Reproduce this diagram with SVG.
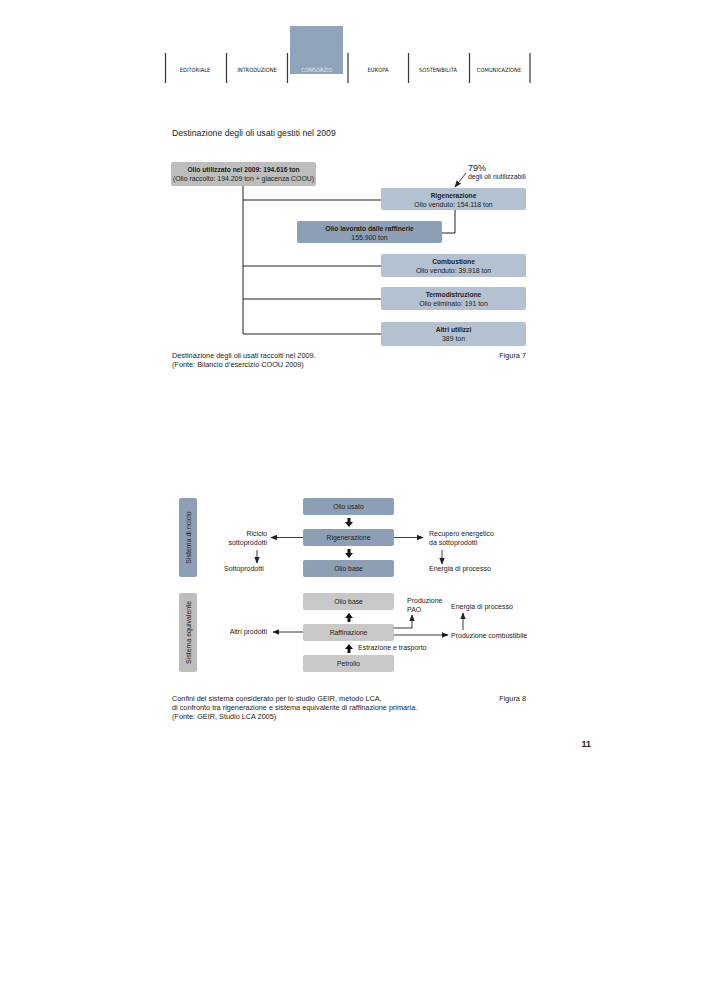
<svg xmlns="http://www.w3.org/2000/svg" width="706" height="1000" viewBox="0 0 706 1000">
<defs>
<style>
text{font-family:"Liberation Sans",Arial,sans-serif;fill:#222;}
.nav{font-size:5.7px;text-anchor:middle;fill:#222;font-family:"DejaVu Sans Condensed","Liberation Sans Narrow",sans-serif;}
.navbar{stroke:#333;stroke-width:1.2;}
.t7{font-size:6.9px;text-anchor:middle;}
.b{font-weight:bold;font-size:6.7px;}
.lbl{font-size:7px;}
.bx{font-size:6.8px;text-anchor:middle;}
.cap{font-size:7.3px;}
.ln{stroke:#222;stroke-width:1;fill:none;}
.thin{stroke:#222;stroke-width:0.9;fill:none;}
.blue{fill:#b4c1d0;}
.dblue{fill:#8c9fb5;}
.grey{fill:#bdbdbd;}
.lgrey{fill:#c8c8c8;}
</style>
<marker id="ah" viewBox="0 0 10 10" refX="9" refY="5" markerWidth="7" markerHeight="7" markerUnits="userSpaceOnUse" orient="auto">
<path d="M0,1 L10,5 L0,9 z" fill="#222"/>
</marker>
<path id="thick" d="M-1.5,0 L1.5,0 L1.5,4 L4,4 L0,9 L-4,4 L-1.5,4 z" fill="#111"/>
</defs>
<rect width="706" height="1000" fill="#fff"/>

<g id="header">
<rect x="290" y="26" width="53" height="48" fill="#8fa3ba"/>
<line class="navbar" x1="165.5" y1="53" x2="165.5" y2="83"/>
<line class="navbar" x1="226.5" y1="53" x2="226.5" y2="83"/>
<line class="navbar" x1="287.5" y1="53" x2="287.5" y2="83"/>
<line class="navbar" x1="348" y1="53" x2="348" y2="83"/>
<line class="navbar" x1="408.5" y1="53" x2="408.5" y2="83"/>
<line class="navbar" x1="469.5" y1="53" x2="469.5" y2="83"/>
<line class="navbar" x1="530" y1="53" x2="530" y2="83"/>
<text class="nav" x="195" y="72">EDITORIALE</text>
<text class="nav" x="257" y="72">INTRODUZIONE</text>
<text class="nav" x="317" y="72" style="fill:#dfe6ee">CONSORZIO</text>
<text class="nav" x="378" y="72">EUROPA</text>
<text class="nav" x="438" y="72">SOSTENIBILITÀ</text>
<text class="nav" x="499" y="72">COMUNICAZIONE</text>
</g>

<text x="172" y="136" style="font-size:8.7px">Destinazione degli oli usati gestiti nel 2009</text>

<g id="fig7-connectors">
<polyline class="ln" points="243,186 243,334 381,334"/>
<line class="ln" x1="243" y1="200" x2="381" y2="200"/>
<line class="ln" x1="243" y1="266" x2="381" y2="266"/>
<line class="ln" x1="243" y1="299" x2="381" y2="299"/>
<polyline class="ln" points="455,210 455,233 442,233"/>
<line class="thin" x1="466" y1="173" x2="455" y2="187" marker-end="url(#ah)"/>
</g>

<g id="n-utilizzato">
<rect x="171" y="162" width="145" height="24" rx="2" class="grey"/>
<text class="t7 b" x="243.5" y="172">Olio utilizzato nel 2009: 194.616 ton</text>
<text class="t7" x="243.5" y="181">(Olio raccolto: 194.209 ton + giacenza COOU)</text>
</g>
<g id="n-pct">
<text x="468" y="171" style="font-size:9px">79%</text>
<text x="468" y="179" style="font-size:6.8px">degli oli riutilizzabili</text>
</g>
<g id="n-rigenerazione">
<rect x="381" y="188" width="145" height="22" rx="2" class="blue"/>
<text class="t7 b" x="453.5" y="197.5">Rigenerazione</text>
<text class="t7" x="453.5" y="206.5">Olio venduto: 154.118 ton</text>
</g>
<g id="n-lavorato">
<rect x="297" y="221" width="145" height="22" rx="2" class="dblue"/>
<text class="t7 b" x="369.5" y="230.5">Olio lavorato dalle raffinerie</text>
<text class="t7" x="369.5" y="239.5">155.900 ton</text>
</g>
<g id="n-combustione">
<rect x="381" y="254" width="145" height="23" rx="2" class="blue"/>
<text class="t7 b" x="453.5" y="263.5">Combustione</text>
<text class="t7" x="453.5" y="272.5">Olio venduto: 39.918 ton</text>
</g>
<g id="n-termo">
<rect x="381" y="287" width="145" height="23" rx="2" class="blue"/>
<text class="t7 b" x="453.5" y="296.5">Termodistruzione</text>
<text class="t7" x="453.5" y="305.5">Olio eliminato: 191 ton</text>
</g>
<g id="n-altri">
<rect x="381" y="322" width="145" height="24" rx="2" class="blue"/>
<text class="t7 b" x="453.5" y="331.5">Altri utilizzi</text>
<text class="t7" x="453.5" y="340.5">389 ton</text>
</g>

<text class="cap" x="172" y="358">Destinazione degli oli usati raccolti nel 2009.</text>
<text class="cap" x="172" y="367">(Fonte: Bilancio d’esercizio COOU 2009)</text>
<text class="cap" x="526" y="358" text-anchor="end">Figura 7</text>

<!-- Figure 8 -->
<g id="side-riciclo">
<rect x="179" y="498" width="18" height="79" rx="2" class="dblue"/>
<text class="lbl" transform="translate(190.5,537.5) rotate(-90)" text-anchor="middle">Sistema di riciclo</text>
</g>
<g id="side-equivalente">
<rect x="179" y="593" width="18" height="79" rx="2" class="grey"/>
<text class="lbl" transform="translate(190.5,632.5) rotate(-90)" text-anchor="middle">Sistema equivalente</text>
</g>

<g id="fig8-connectors">
<use href="#thick" x="349" y="518"/>
<use href="#thick" x="349" y="549"/>
<use href="#thick" transform="translate(349,622) rotate(180)"/>
<use href="#thick" transform="translate(349,653) rotate(180)"/>
<line class="thin" x1="303" y1="537.5" x2="271" y2="537.5" marker-end="url(#ah)"/>
<line class="thin" x1="394" y1="537.5" x2="423" y2="537.5" marker-end="url(#ah)"/>
<line class="thin" x1="257" y1="550" x2="257" y2="563" marker-end="url(#ah)"/>
<line class="thin" x1="442" y1="550" x2="442" y2="564" marker-end="url(#ah)"/>
<line class="thin" x1="303" y1="632" x2="273" y2="632" marker-end="url(#ah)"/>
<polyline class="thin" points="394,628 412,628 412,615" marker-end="url(#ah)"/>
<line class="thin" x1="394" y1="635" x2="448" y2="635" marker-end="url(#ah)"/>
<line class="thin" x1="463" y1="630" x2="463" y2="613" marker-end="url(#ah)"/>
</g>

<g id="n-oliousato">
<rect x="303" y="498" width="91" height="17" rx="2" class="dblue"/>
<text class="bx" x="348.5" y="508.8">Olio usato</text>
</g>
<g id="n-rigen8">
<rect x="303" y="529" width="91" height="17" rx="2" class="dblue"/>
<text class="bx" x="348.5" y="539.8">Rigenerazione</text>
</g>
<g id="n-oliobase1">
<rect x="303" y="560" width="91" height="17" rx="2" class="dblue"/>
<text class="bx" x="348.5" y="570.8">Olio base</text>
</g>
<g id="n-riciclo">
<text class="lbl" x="267" y="536" text-anchor="end">Riciclo</text>
<text class="lbl" x="267" y="545" text-anchor="end">sottoprodotti</text>
</g>
<g id="n-sottoprodotti"><text class="lbl" x="224" y="571">Sottoprodotti</text></g>
<g id="n-recupero">
<text class="lbl" x="429" y="536">Recupero energetico</text>
<text class="lbl" x="429" y="545">da sottoprodotti</text>
</g>
<g id="n-energia1"><text class="lbl" x="429" y="571">Energia di processo</text></g>

<g id="n-oliobase2">
<rect x="303" y="593" width="91" height="17" rx="2" class="lgrey"/>
<text class="bx" x="348.5" y="603.8">Olio base</text>
</g>
<g id="n-raffinazione">
<rect x="303" y="624" width="91" height="17" rx="2" class="lgrey"/>
<text class="bx" x="348.5" y="634.8">Raffinazione</text>
</g>
<g id="n-petrolio">
<rect x="303" y="655" width="91" height="17" rx="2" class="lgrey"/>
<text class="bx" x="348.5" y="665.8">Petrolio</text>
</g>
<g id="n-altriprodotti"><text class="lbl" x="267" y="634" text-anchor="end">Altri prodotti</text></g>
<g id="n-estrazione"><text class="lbl" x="358" y="650">Estrazione e trasporto</text></g>
<g id="n-pao">
<text class="lbl" x="407" y="603">Produzione</text>
<text class="lbl" x="407" y="612">PAO</text>
</g>
<g id="n-energia2"><text class="lbl" x="451" y="609">Energia di processo</text></g>
<g id="n-combustibile"><text class="lbl" x="451" y="638">Produzione combustibile</text></g>

<text class="cap" x="172" y="701">Confini del sistema considerato per lo studio GEIR, metodo LCA,</text>
<text class="cap" x="172" y="710">di confronto tra rigenerazione e sistema equivalente di raffinazione primaria.</text>
<text class="cap" x="172" y="719">(Fonte: GEIR, Studio LCA 2005)</text>
<text class="cap" x="526" y="701" text-anchor="end">Figura 8</text>

<text x="591" y="747" text-anchor="end" style="font-size:9px;font-weight:bold">11</text>
</svg>
